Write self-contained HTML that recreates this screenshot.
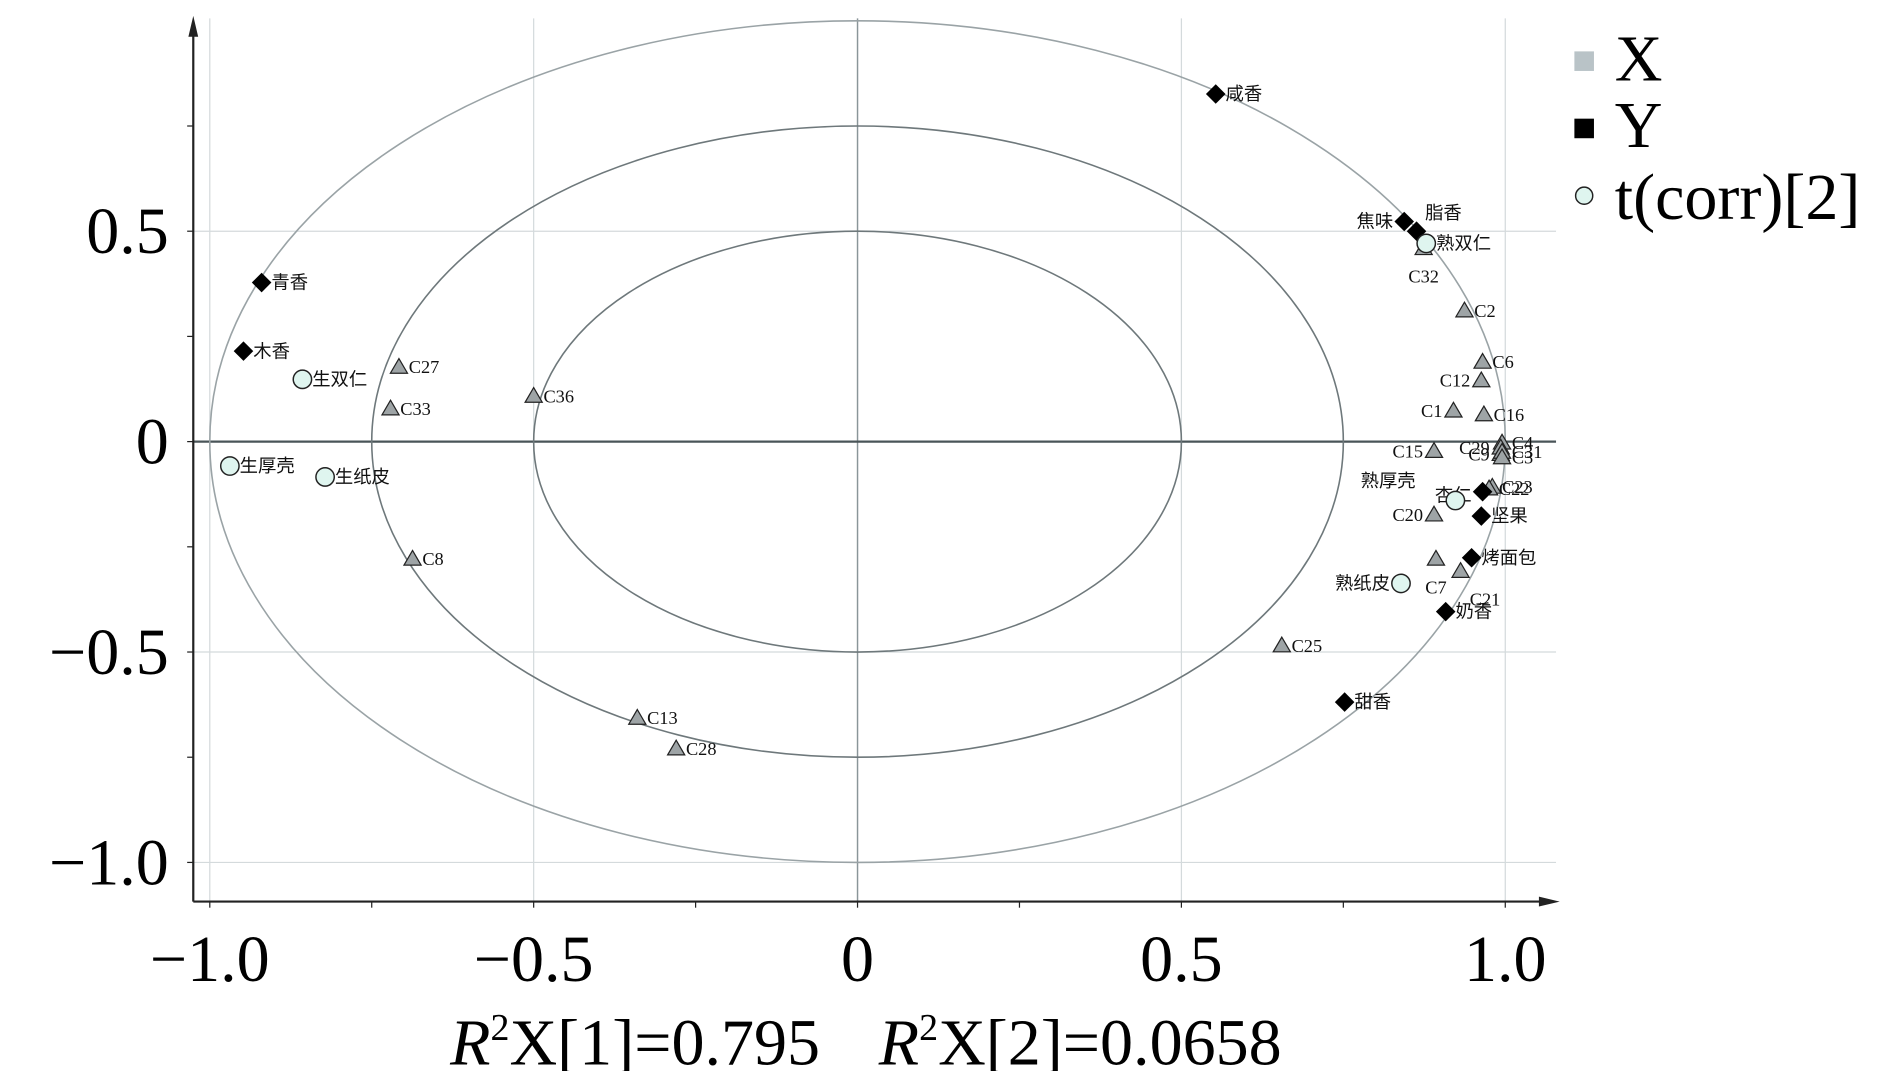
<!DOCTYPE html>
<html><head><meta charset="utf-8">
<style>
html,body{margin:0;padding:0;background:#fff;}
svg{display:block;}
text{font-family:"Liberation Serif","Noto Serif CJK SC",serif;}
.lab{font-family:"Liberation Serif","Noto Sans CJK SC",sans-serif;font-size:15px;fill:#111;}
</style></head>
<body>
<svg id="chart" width="1890" height="1071" viewBox="0 0 1545 875.5" xmlns="http://www.w3.org/2000/svg">
<g id="grid"></g>
<g id="ellipses"></g>
<g id="axes"></g>
<g id="marks"></g>
<g>
  <rect x="1287" y="42" width="16" height="16" fill="#b9c3c7"/>
  <text x="1320" y="66" font-size="54">X</text>
  <rect x="1287" y="97" width="16" height="16" fill="#000"/>
  <text x="1320" y="120" font-size="54">Y</text>
  <circle cx="1295" cy="160" r="7" fill="#dff5ef" stroke="#222" stroke-width="1.2"/>
  <text x="1320" y="179" font-size="54">t(corr)[2]</text>
</g>
<text x="368" y="870" font-size="54"><tspan font-style="italic">R</tspan><tspan font-size="31" dy="-20">2</tspan><tspan dy="20">X[1]=0.795</tspan><tspan dx="48" font-style="italic">R</tspan><tspan font-size="31" dy="-20">2</tspan><tspan dy="20">X[2]=0.0658</tspan></text>
</svg>
<script>
const xTicks=[-1.0,-0.5,0,0.5,1.0];
const xTickLabels=["\u22121.0","\u22120.5","0","0.5","1.0"];
const yTicks=[0.5,0,-0.5,-1.0];
const yTickLabels=["0.5","0","\u22120.5","\u22121.0"];
const ellipseRadii=[1.0,0.75,0.5];
const xNames=["C32","C2","C6","C12","C1","C16","C4","C15","C29","C9","C31","C3","C23","C22","C20","C7","C21","C25","C27","C33","C36","C8","C13","C28"];
const xVals=[0.874,0.937,0.965,0.963,0.920,0.967,0.995,0.890,0.993,0.993,0.995,0.995,0.980,0.975,0.890,0.893,0.931,0.655,-0.708,-0.721,-0.500,-0.687,-0.340,-0.280];
const xVals2=[0.459,0.311,0.189,0.145,0.073,0.064,-0.003,-0.023,-0.015,-0.030,-0.025,-0.038,-0.108,-0.112,-0.174,-0.279,-0.308,-0.485,0.177,0.078,0.108,-0.279,-0.657,-0.730];
const yNames=["咸香","焦味","脂香","青香","木香","烤面包","奶香","甜香","坚果","杏仁"];
const yVals=[0.553,0.844,0.863,-0.920,-0.948,0.948,0.908,0.752,0.963,0.965];
const yVals2=[0.826,0.523,0.500,0.378,0.215,-0.276,-0.404,-0.619,-0.177,-0.119];
const tNames=["熟双仁","生双仁","生厚壳","生纸皮","熟厚壳","熟纸皮"];
const tVals=[0.878,-0.857,-0.969,-0.822,0.923,0.839];
const tVals2=[0.471,0.148,-0.058,-0.084,-0.140,-0.337];

const NS="http://www.w3.org/2000/svg";
const X0=701,XU=529.5,Y0=361,YU=344;
function sx(v){return X0+v*XU;}
function sy(v){return Y0-v*YU;}
function mk(tag,attrs,parent){const e=document.createElementNS(NS,tag);for(const k in attrs)e.setAttribute(k,attrs[k]);parent.appendChild(e);return e;}
const grid=document.getElementById('grid'),ell=document.getElementById('ellipses'),axes=document.getElementById('axes'),marks=document.getElementById('marks');

xTicks.forEach((t,i)=>{
  if(t!==0){const l=mk('line',{x1:sx(t),x2:sx(t),y1:15,y2:737,stroke:'#d4dadc','stroke-width':1},grid);
  
  }
  const tx=mk('text',{x:sx(t),y:802,'font-size':54,'text-anchor':'middle'},axes);tx.textContent=xTickLabels[i];
  
  
});
yTicks.forEach((t,i)=>{
  if(t!==0){const l=mk('line',{x1:158,x2:1272,y1:sy(t),y2:sy(t),stroke:'#d4dadc','stroke-width':1},grid);
  
  }
  const tx=mk('text',{x:138,y:sy(t)+18,'font-size':54,'text-anchor':'end'},axes);tx.textContent=yTickLabels[i];
  
  
});
let z=mk('line',{x1:sx(0),x2:sx(0),y1:15,y2:737,stroke:'#8a9599','stroke-width':1.2},grid);


z=mk('line',{x1:158,x2:1272,y1:sy(0),y2:sy(0),stroke:'#4a5558','stroke-width':1.8},grid);



ellipseRadii.forEach((r,i)=>{
  const e=mk('ellipse',{cx:sx(0),cy:sy(0),rx:r*XU,ry:r*YU,fill:'none',stroke:i===0?'#9aa3a6':'#6e787b','stroke-width':1.3},ell);
  
  
});

let a=mk('path',{d:'M158 737 L158 25 M158 737 L1262 737',stroke:'#222','stroke-width':1.8,fill:'none'},axes);


a=mk('path',{d:'M158 13 L154 30 L162 30 Z M1275 737 L1258 733 L1258 741 Z',fill:'#222'},axes);


for(let v=-1;v<=0.76;v+=0.25){const t=mk('line',{x1:153,x2:158,y1:sy(v),y2:sy(v),stroke:'#222','stroke-width':1},axes);
  
  }
for(let v=-1;v<=1.01;v+=0.25){const t=mk('line',{x1:sx(v),x2:sx(v),y1:737,y2:742,stroke:'#222','stroke-width':1},axes);
  
  }

const leftLab=new Set(["C12","C1","C15","C29","C9","C20","焦味","杏仁"]);
const belowLab=new Set(["C32","C7","C21"]);
function label(name,px,py,g){
  let x=px+8,y=py+5,anchor='start';
  if(leftLab.has(name)){x=px-9;anchor='end';}
  if(belowLab.has(name)){x=px;y=py+28;anchor='middle';if(name==='C21')x=px+20;}
  if(name==='脂香'){x=px+7;y=py-10;}
  if(name==='杏仁'){y=py+8;}
  const t=mk('text',{x:x,y:y,'text-anchor':anchor,class:'lab'},g);t.textContent=name;
  
  
}
xNames.forEach((n,i)=>{
  const px=sx(xVals[i]),py=sy(xVals2[i]);
  const p=mk('path',{d:`M${px} ${py-7} L${px+7} ${py+5} L${px-7} ${py+5} Z`,fill:'#9ea4a6',stroke:'#222','stroke-width':1},marks);
  
  
  label(n,px,py,marks);
});
yNames.forEach((n,i)=>{
  const px=sx(yVals[i]),py=sy(yVals2[i]);
  const p=mk('path',{d:`M${px} ${py-8} L${px+8} ${py} L${px} ${py+8} L${px-8} ${py} Z`,fill:'#000'},marks);
  
  
  label(n,px,py,marks);
});
tNames.forEach((n,i)=>{
  const px=sx(tVals[i]),py=sy(tVals2[i]);
  const c=mk('circle',{cx:px,cy:py,r:7.5,fill:'#dff5ef',stroke:'#222','stroke-width':1.2},marks);
  
  
  if(n==='熟厚壳'){const t=mk('text',{x:px-55,y:py-11,'text-anchor':'middle',class:'lab'},marks);t.textContent=n;
    
    }
  else if(n==='熟纸皮'){const t=mk('text',{x:px-9,y:py+5,'text-anchor':'end',class:'lab'},marks);t.textContent=n;
    
    }
  else label(n,px,py,marks);
});
</script>
</body></html>
